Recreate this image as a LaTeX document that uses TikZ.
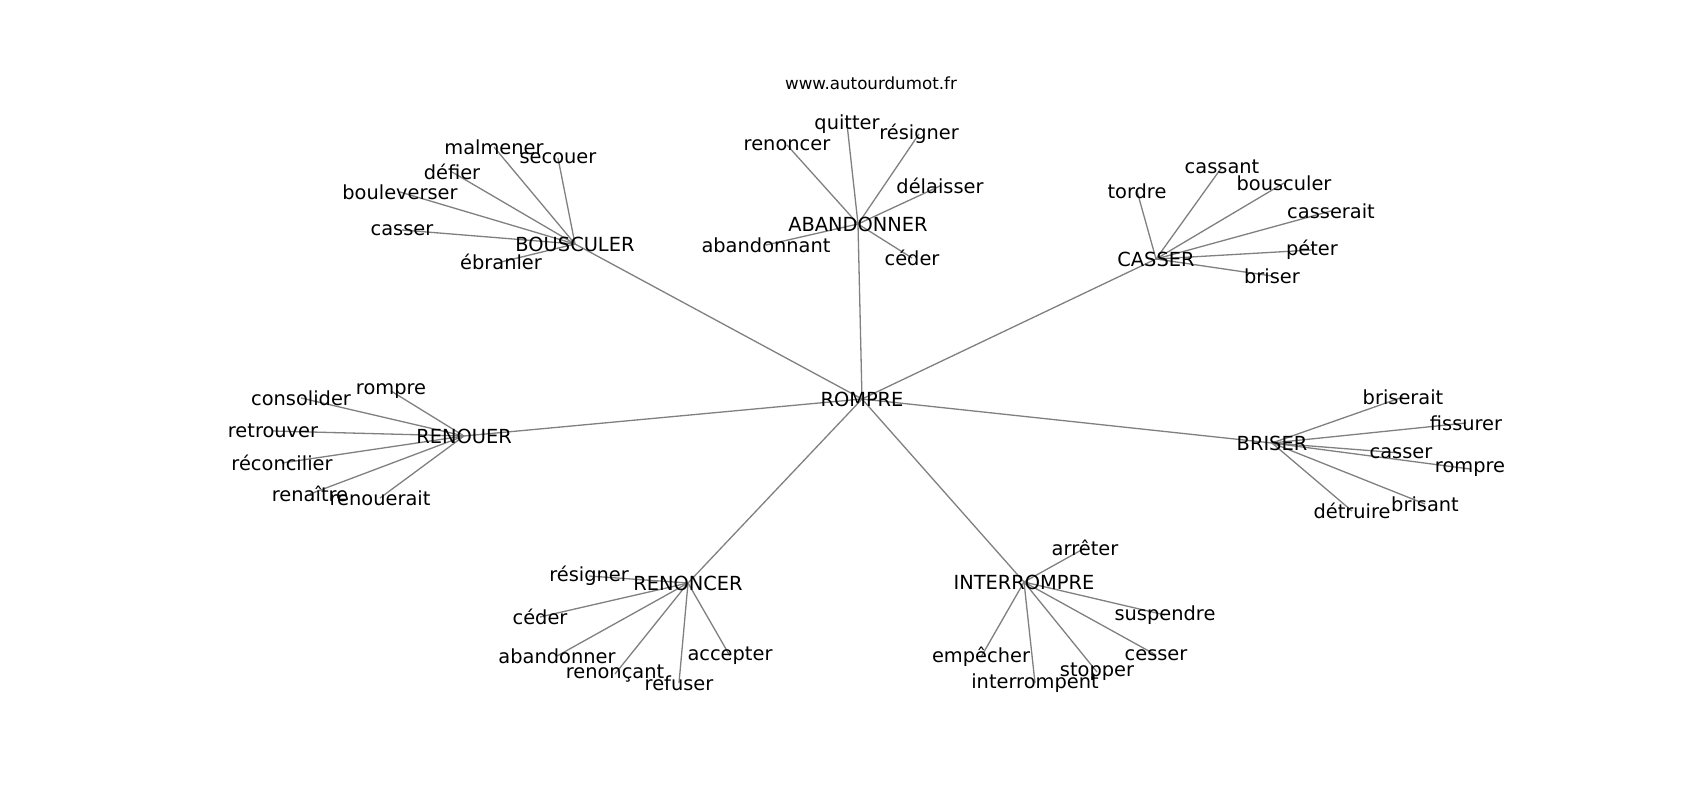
\documentclass[tikz,border=0pt]{standalone}
\usepackage{fontspec}
\setmainfont{DejaVu Sans}
\begin{document}
\begin{tikzpicture}[x=1pt,y=-1pt,
  lbl/.style={inner sep=0pt,anchor=center,font=\fontsize{19.4}{19.4}\selectfont},
  ttl/.style={inner sep=0pt,anchor=center,font=\fontsize{16.7}{16.7}\selectfont},
  edge/.style={draw=gray,line width=1.3pt}]
\useasboundingbox (0,0) rectangle (1700,800);
\fill[white] (0,0) rectangle (1700,800);
% coordinates of nodes
\coordinate (cROMPRE) at (862,399);
\coordinate (cBOUS) at (575,244);
\coordinate (cABAN) at (858,224);
\coordinate (cCASS) at (1156,259);
\coordinate (cRENO) at (464,436);
\coordinate (cBRIS) at (1272,443);
\coordinate (cRENC) at (688,583);
\coordinate (cINTE) at (1024,582);
% BOUSCULER leaves
\coordinate (b1) at (494,147);
\coordinate (b2) at (558,158);
\coordinate (b3) at (452,172);
\coordinate (b4) at (400,192);
\coordinate (b5) at (402,230);
\coordinate (b6) at (501,262);
% ABANDONNER leaves
\coordinate (a1) at (847,124);
\coordinate (a2) at (919,134);
\coordinate (a3) at (787,145);
\coordinate (a4) at (940,186);
\coordinate (a5) at (766,245);
\coordinate (a6) at (912,258);
% CASSER leaves
\coordinate (c1) at (1222,167);
\coordinate (c2) at (1137,191);
\coordinate (c3) at (1284,183);
\coordinate (c4) at (1331,211);
\coordinate (c5) at (1312,250);
\coordinate (c6) at (1272,276);
% RENOUER leaves
\coordinate (r1) at (391,391);
\coordinate (r2) at (301,398);
\coordinate (r3) at (273,431);
\coordinate (r4) at (282,463);
\coordinate (r5) at (310,494);
\coordinate (r6) at (380,498);
% BRISER leaves
\coordinate (s1) at (1403,397);
\coordinate (s2) at (1466,423);
\coordinate (s3) at (1401,453);
\coordinate (s4) at (1470,469);
\coordinate (s5) at (1425,504);
\coordinate (s6) at (1352,511);
% RENONCER leaves
\coordinate (n1) at (589,576);
\coordinate (n2) at (540,617);
\coordinate (n3) at (557,656);
\coordinate (n4) at (615,674);
\coordinate (n5) at (679,683);
\coordinate (n6) at (730,656);
% INTERROMPRE leaves
\coordinate (i1) at (1085,548);
\coordinate (i2) at (1165,615);
\coordinate (i3) at (981,657);
\coordinate (i4) at (1156,655);
\coordinate (i5) at (1097,672);
\coordinate (i6) at (1035,683);
% edges
\foreach \h in {cBOUS,cABAN,cCASS,cRENO,cBRIS,cRENC,cINTE}
  \draw[edge] (cROMPRE) -- (\h);
\foreach \l in {b1,b2,b3,b4,b5,b6} \draw[edge] (cBOUS) -- (\l);
\foreach \l in {a1,a2,a3,a4,a5,a6} \draw[edge] (cABAN) -- (\l);
\foreach \l in {c1,c2,c3,c4,c5,c6} \draw[edge] (cCASS) -- (\l);
\foreach \l in {r1,r2,r3,r4,r5,r6} \draw[edge] (cRENO) -- (\l);
\foreach \l in {s1,s2,s3,s4,s5,s6} \draw[edge] (cBRIS) -- (\l);
\foreach \l in {n1,n2,n3,n4,n5,n6} \draw[edge] (cRENC) -- (\l);
\foreach \l in {i1,i2,i3,i4,i5,i6} \draw[edge] (cINTE) -- (\l);
% labels
\node[ttl] (title) at (871,83) {www.autourdumot.fr};
\node[lbl] (ROMPRE) at (cROMPRE) {ROMPRE};
\node[lbl] (BOUS) at (cBOUS) {BOUSCULER};
\node[lbl] (ABAN) at (cABAN) {ABANDONNER};
\node[lbl] (CASS) at (cCASS) {CASSER};
\node[lbl] (RENO) at (cRENO) {RENOUER};
\node[lbl] (BRIS) at (cBRIS) {BRISER};
\node[lbl] (RENC) at (cRENC) {RENONCER};
\node[lbl] (INTE) at (cINTE) {INTERROMPRE};
\node[lbl] (lb1) at (b1) {malmener};
\node[lbl] (lb2) at (b2) {secouer};
\node[lbl] (lb3) at (b3) {défier};
\node[lbl] (lb4) at (b4) {bouleverser};
\node[lbl] (lb5) at (b5) {casser};
\node[lbl] (lb6) at (b6) {ébranler};
\node[lbl] (la1) at (a1) {quitter};
\node[lbl] (la2) at (a2) {résigner};
\node[lbl] (la3) at (a3) {renoncer};
\node[lbl] (la4) at (a4) {délaisser};
\node[lbl] (la5) at (a5) {abandonnant};
\node[lbl] (la6) at (a6) {céder};
\node[lbl] (lc1) at (c1) {cassant};
\node[lbl] (lc2) at (c2) {tordre};
\node[lbl] (lc3) at (c3) {bousculer};
\node[lbl] (lc4) at (c4) {casserait};
\node[lbl] (lc5) at (c5) {péter};
\node[lbl] (lc6) at (c6) {briser};
\node[lbl] (lr1) at (r1) {rompre};
\node[lbl] (lr2) at (r2) {consolider};
\node[lbl] (lr3) at (r3) {retrouver};
\node[lbl] (lr4) at (r4) {réconcilier};
\node[lbl] (lr5) at (r5) {renaître};
\node[lbl] (lr6) at (r6) {renouerait};
\node[lbl] (ls1) at (s1) {briserait};
\node[lbl] (ls2) at (s2) {fissurer};
\node[lbl] (ls3) at (s3) {casser};
\node[lbl] (ls4) at (s4) {rompre};
\node[lbl] (ls5) at (s5) {brisant};
\node[lbl] (ls6) at (s6) {détruire};
\node[lbl] (ln1) at (n1) {résigner};
\node[lbl] (ln2) at (n2) {céder};
\node[lbl] (ln3) at (n3) {abandonner};
\node[lbl] (ln4) at (n4) {renonçant};
\node[lbl] (ln5) at (n5) {refuser};
\node[lbl] (ln6) at (n6) {accepter};
\node[lbl] (li1) at (i1) {arrêter};
\node[lbl] (li2) at (i2) {suspendre};
\node[lbl] (li3) at (i3) {empêcher};
\node[lbl] (li4) at (i4) {cesser};
\node[lbl] (li5) at (i5) {stopper};
\node[lbl] (li6) at (i6) {interrompent};
\end{tikzpicture}
\end{document}
